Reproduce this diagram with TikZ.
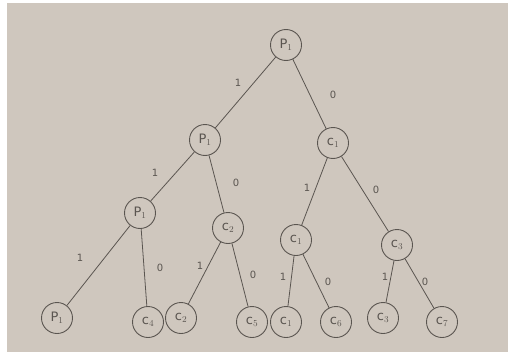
\documentclass[tikz,border=0pt]{standalone}
\usepackage{fontspec}
\setmainfont{DejaVu Sans}
\definecolor{paper}{HTML}{CFC7BE}
\definecolor{ink}{HTML}{5A5550}
\tikzset{
  vert/.style={circle, draw=ink, line width=0.9pt, minimum size=31pt, inner sep=0pt, text=ink, font=\fontsize{13}{13}\selectfont},
  edge/.style={draw=ink, line width=0.8pt},
  bit/.style={text=ink, font=\fontsize{10}{10}\selectfont, inner sep=0pt}
}
\begin{document}
\begin{tikzpicture}[x=1pt,y=-1pt]
\useasboundingbox (0,0) rectangle (508,361);
\fill[white] (0,0) rectangle (508,361);
\fill[paper] (7,3) rectangle (508,352);
% nodes
\node[vert] (r) at (286,45) {P$_1$};
\node[vert] (a) at (205,140) {P$_1$};
\node[vert] (b) at (333,143) {c$_1$};
\node[vert] (aa) at (140,213) {P$_1$};
\node[vert] (ab) at (228,228) {c$_2$};
\node[vert] (ba) at (296,240) {c$_1$};
\node[vert] (bb) at (397,245) {c$_3$};
\node[vert] (l1) at (57,318) {P$_1$};
\node[vert] (l2) at (148,322) {c$_4$};
\node[vert] (l3) at (181,318) {c$_2$};
\node[vert] (l4) at (252,322) {c$_5$};
\node[vert] (l5) at (286,322) {c$_1$};
\node[vert] (l6) at (336,322) {c$_6$};
\node[vert] (l7) at (383,318) {c$_3$};
\node[vert] (l8) at (442,322) {c$_7$};
% edges
\draw[edge] (r) -- (a);
\draw[edge] (r) -- (b);
\draw[edge] (a) -- (aa);
\draw[edge] (a) -- (ab);
\draw[edge] (b) -- (ba);
\draw[edge] (b) -- (bb);
\draw[edge] (aa) -- (l1);
\draw[edge] (aa) -- (l2);
\draw[edge] (ab) -- (l3);
\draw[edge] (ab) -- (l4);
\draw[edge] (ba) -- (l5);
\draw[edge] (ba) -- (l6);
\draw[edge] (bb) -- (l7);
\draw[edge] (bb) -- (l8);
% bit labels
\node[bit] (e1) at (238,83) {1};
\node[bit] (e2) at (333,95) {0};
\node[bit] (e3) at (155,173) {1};
\node[bit] (e4) at (236,183) {0};
\node[bit] (e5) at (307,188) {1};
\node[bit] (e6) at (376,190) {0};
\node[bit] (e7) at (80,258) {1};
\node[bit] (e8) at (160,268) {0};
\node[bit] (e9) at (200,266) {1};
\node[bit] (e10) at (253,275) {0};
\node[bit] (e11) at (283,277) {1};
\node[bit] (e12) at (328,282) {0};
\node[bit] (e13) at (385,277) {1};
\node[bit] (e14) at (425,282) {0};
\end{tikzpicture}
\end{document}
